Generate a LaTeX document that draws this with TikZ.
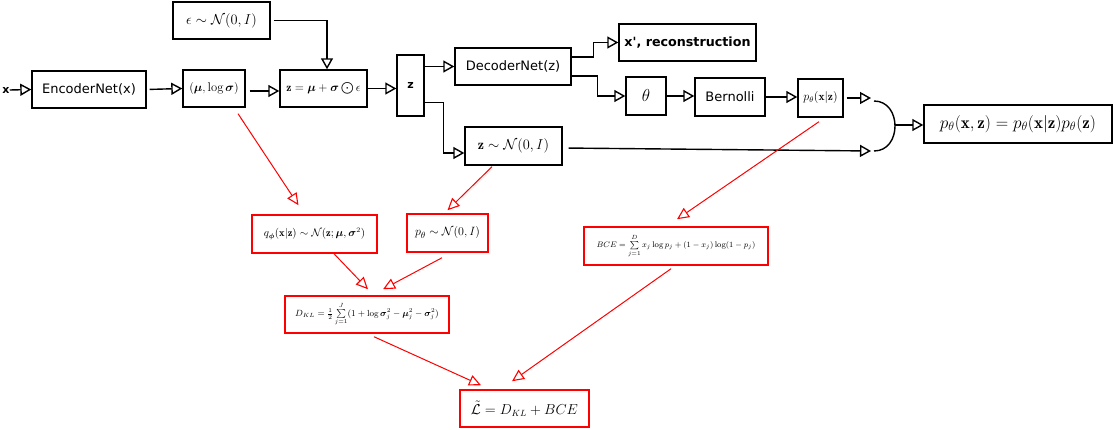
\documentclass[tikz,border=0pt]{standalone}
\usepackage{amsmath,amssymb,bm}
\usepackage{fontspec}
\newfontfamily\djv{DejaVu Sans}
\usetikzlibrary{arrows.meta,calc}
\begin{document}
\begin{tikzpicture}[x=1pt,y=-1pt,
  box/.style={draw,line width=1.4pt,inner sep=0pt,align=center},
  rbox/.style={draw=red,line width=1.5pt,inner sep=0pt,align=center},
  arr/.style={line width=1.4pt,-{Triangle[open,length=11pt,width=12pt,line width=1.4pt]}},
  rarr/.style={red,line width=1pt,-{Triangle[open,length=12pt,width=11pt,line width=1.1pt]}},
  sf/.style={font=\djv\fontsize{13}{15}\selectfont}]
\useasboundingbox (0,0) rectangle (1113,430);
\node[font=\djv\bfseries\fontsize{11}{13}\selectfont,inner sep=0pt] (xin) at (6,90) {x};
\node[box,sf,minimum width=114,minimum height=37] (enc) at (89,89.5) {EncoderNet(x)};
\node[box,font=\fontsize{12.6}{14}\selectfont,minimum width=62,minimum height=37] (mu) at (214,88.5) {$(\bm{\mu},\log\bm{\sigma})$};
\node[box,font=\fontsize{14}{16}\selectfont,minimum width=97,minimum height=37] (eps) at (221.5,20.5) {$\epsilon\sim\mathcal{N}(0,I)$};
\node[box,font=\fontsize{11.7}{13}\selectfont,minimum width=87,minimum height=37] (zeq) at (323.5,88.5) {$\mathbf{z}=\bm{\mu}+\bm{\sigma}\bigodot\epsilon$};
\node[box,font=\djv\bfseries\fontsize{11}{13}\selectfont,minimum width=27,minimum height=61] (z) at (410.5,85.5) {z};
\node[box,sf,minimum width=116,minimum height=37] (dec) at (513,66.5) {DecoderNet(z)};
\node[box,font=\djv\bfseries\fontsize{12.7}{14}\selectfont,minimum width=137,minimum height=37] (xr) at (687.5,42.5) {x', reconstruction};
\node[box,font=\fontsize{18}{20}\selectfont,minimum width=40,minimum height=38] (th) at (646,96) {$\theta$};
\node[box,sf,minimum width=70,minimum height=38] (ber) at (730,97) {Bernolli};
\node[box,font=\fontsize{11.5}{13}\selectfont,minimum width=45,minimum height=38] (px) at (820.5,98) {$p_\theta(\mathbf{x}|\mathbf{z})$};
\node[box,font=\fontsize{14}{16}\selectfont,minimum width=97,minimum height=38] (zN) at (513.5,146) {$\mathbf{z}\sim\mathcal{N}(0,I)$};
\node[box,font=\fontsize{17}{19}\selectfont,minimum width=188,minimum height=38] (fin) at (1018,124) {$p_\theta(\mathbf{x},\mathbf{z})=p_\theta(\mathbf{x}|\mathbf{z})p_\theta(\mathbf{z})$};
% red boxes
\node[rbox,font=\fontsize{10.5}{12}\selectfont,minimum width=125,minimum height=38] (q) at (314.5,234) {$q_{\bm{\phi}}(\mathbf{x}|\mathbf{z})\sim\mathcal{N}(\mathbf{z};\bm{\mu},\bm{\sigma}^2)$};
\node[rbox,font=\fontsize{12.5}{14}\selectfont,minimum width=81,minimum height=38] (pN) at (447.5,233) {$p_\theta\sim\mathcal{N}(0,I)$};
\node[rbox,font=\fontsize{8.8}{10}\selectfont,minimum width=164,minimum height=37] (dkl) at (367,314.5) {$D_{KL}=\frac{1}{2}\sum\limits_{j=1}^{J}(1+\log\bm{\sigma}_j^2-\bm{\mu}_j^2-\bm{\sigma}_j^2)$};
\node[rbox,font=\fontsize{8.2}{9}\selectfont,minimum width=184,minimum height=38] (bce) at (676,246) {$BCE=\sum\limits_{j=1}^{D}x_j\log p_j+(1-x_j)\log(1-p_j)$};
\node[rbox,font=\fontsize{13.5}{15}\selectfont,minimum width=129,minimum height=37] (L) at (524.5,408.5) {$\tilde{\mathcal{L}}=D_{KL}+BCE$};
% coordinates for the merge curve
\coordinate (c1) at (874,101);
\coordinate (c2) at (874,151);
\coordinate (cm) at (895,125);
\coordinate (c1in) at (871,98);
\coordinate (c2in) at (871,151);
% black connectors
\draw[arr] (xin.east) -- (enc.west);
\draw[arr,shorten <=3pt] (enc.east) -- (mu.west);
\draw[arr,shorten <=4pt] ([yshift=-2.5pt]mu.east) -- ([yshift=-2.5pt]zeq.west);
\draw[arr,shorten <=3pt] (eps.east) -| ([xshift=3.5pt]zeq.north);
\draw[arr] (zeq.east) -- (zeq.east -| z.west);
\draw[arr] (z.east |- dec.west) -- (dec.west);
\draw[arr] ($(z.south east)+(0,-14)$) -- ++(19,0) |- ([yshift=-7pt]zN.west);
\draw[arr] ($(dec.east)+(0,-9.5)$) -- ++(22,0) |- (xr.west);
\draw[arr] ($(dec.east)+(0,9.5)$) -- ++(26,0) |- (th.west);
\draw[arr] (th.east) -- (ber.west |- th.east);
\draw[arr] (ber.east) -- (px.west |- ber.east);
\draw[arr,shorten <=3pt] (px.east) -- (c1in);
\draw[arr,shorten <=6pt] ($(zN.east)+(0,2)$) -- (c2in);
\draw[line width=1.4pt] (c1) .. controls (902,101) and (902,151) .. (c2);
\draw[arr] (cm) -- (fin.west |- cm);
% red connectors
\draw[rarr] ($(mu.south)+(24,6)$) -- ($(q.north)+(-16,-9)$);
\draw[rarr] ($(zN.south)+(-21.5,1)$) -- ($(pN.north)+(0,-3)$);
\draw[rarr] ($(q.south)+(19.5,0)$) -- ($(dkl.north)+(1,-6)$);
\draw[rarr] ($(pN.south)+(-5.5,5)$) -- ($(dkl.north)+(16,-6)$);
\draw[rarr] ($(px.south)+(-1.5,4)$) -- ($(bce.north)+(1,-7)$);
\draw[rarr] ($(dkl.south)+(7,3)$) -- ($(L.north)+(-43.5,-4)$);
\draw[rarr] ($(bce.south)+(-5,3)$) -- ($(L.north)+(-12.5,-8)$);
\end{tikzpicture}
\end{document}
